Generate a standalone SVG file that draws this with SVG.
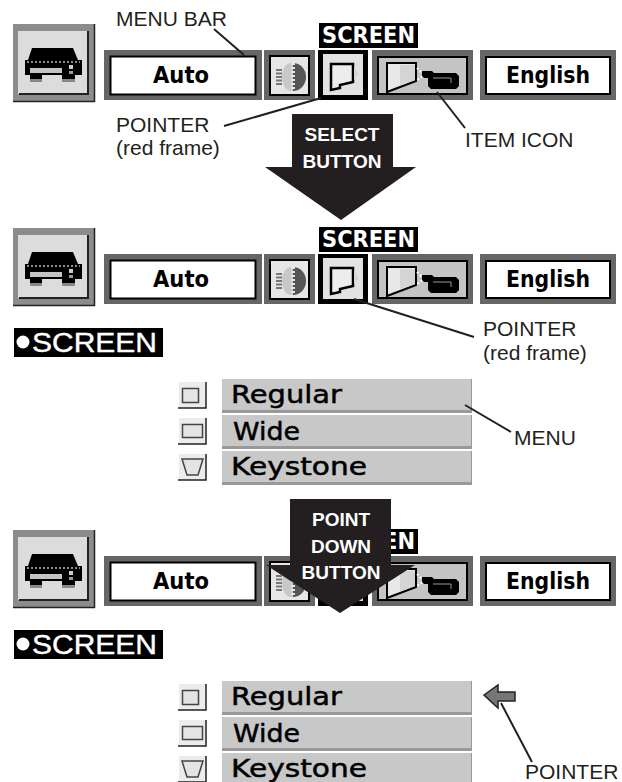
<svg xmlns="http://www.w3.org/2000/svg" xmlns:xlink="http://www.w3.org/1999/xlink" width="622" height="782" viewBox="0 0 622 782">
<style>
.lab{font-family:"Liberation Sans",Arial,sans-serif;font-size:21px;fill:#231f20}
.btn{font-family:"Liberation Sans",Arial,sans-serif;font-size:19px;font-weight:700;fill:#fff;text-anchor:middle}
.bar{font-family:"DejaVu Sans",sans-serif;font-size:23px;font-weight:700;fill:#000}
.scr{font-family:"DejaVu Sans",sans-serif;font-size:23px;font-weight:700;fill:#fff}
.opt{font-family:"DejaVu Sans",sans-serif;font-size:25px;fill:#000;stroke:#000;stroke-width:.5px}
.ol{font-family:"Liberation Sans",Arial,sans-serif;font-size:27px;fill:#fff;stroke:#fff;stroke-width:.4px}
.con{stroke:#231f20;stroke-width:2;fill:none}
.frame{fill:#666}
.in{stroke:#000;stroke-width:2}
.row{fill:#c8c8c8}
.rowb{fill:#999}
.ic{fill:#ececec}
.ico{fill:#e4e4e4;stroke:#444;stroke-width:1.5}
</style>
<defs>
<g id="bar">
  <rect x="13" y="24" width="82" height="78" fill="#8c8c8c"/>
  <path d="M13 101.500H95M94.500 24V102" stroke="#222" stroke-width="1.500" fill="none"/>
  <rect x="18" y="31" width="70" height="63" fill="#dcdcdc"/>
  <path d="M19 94H88V31" fill="none" stroke="#222" stroke-width="2"/>
  <path d="M30 75H42V82H30ZM62 75H75V82H62Z" fill="#888"/>
  <path d="M32 48H73L78 60H82V75H75V79H62V75H42V79H30V75H25V60H28Z" fill="#000"/>
  <path d="M27 62H80" stroke="#bbb" stroke-width="1.500" stroke-dasharray="2 2"/>
  <rect x="30" y="68" width="32" height="5" fill="#c4c4c4"/>
  <rect x="69" y="65" width="4" height="4" fill="#ccc"/><rect x="69" y="71" width="4" height="3" fill="#999"/>
  <rect x="104" y="50" width="158" height="50" class="frame"/>
  <rect x="110.500" y="56.500" width="145" height="38" fill="#fff" class="in"/>
  <text class="bar" x="153" y="83" textLength="56" lengthAdjust="spacingAndGlyphs">Auto</text>
  <rect x="264" y="50" width="51" height="50" class="frame"/>
  <rect x="270" y="56" width="39" height="39" fill="#e6e6e6" class="in"/>
  <ellipse cx="291" cy="77" rx="9" ry="14" fill="#c8c8c8"/>
  <path d="M293 63A13 14 0 0 1 293 91Z" fill="#555"/>
  <path d="M293 63V91" stroke="#e6e6e6" stroke-width="4" stroke-dasharray="2 2"/>
  <path d="M279 69V85" stroke="#777" stroke-width="6" stroke-dasharray="2 1.500"/>
  <rect x="372" y="50" width="101" height="50" class="frame"/>
  <rect x="378" y="57" width="89" height="37" fill="#c4c4c4" class="in"/>
  <path d="M387 63H416V81L387 92Z" fill="#e8e8e8" stroke="#000" stroke-width="2"/>
  <path d="M400 65H415V80L400 85Z" fill="#d4d4d4"/>
  <path d="M417 68L424 75 417 80" fill="none" stroke="#fff" stroke-width="2" stroke-dasharray="2 2"/>
  <path d="M422 71H432L434 73H456L459 76V86L456 89H431L428 86V78H424L422 76Z" fill="#000"/>
  <path d="M433 78H451V83" fill="none" stroke="#999" stroke-width="1"/>
  <rect x="480" y="50" width="136" height="50" class="frame"/>
  <rect x="486" y="57" width="124" height="37" fill="#fff" class="in"/>
  <text class="bar" x="506" y="83" textLength="84" lengthAdjust="spacingAndGlyphs">English</text>
</g>
<g id="pointerbox">
  <rect x="318" y="50" width="50" height="50" fill="#000"/>
  <rect x="323" y="54" width="40" height="41" fill="#e2e2e2"/>
  <path d="M331 64H353V82L340 85V88L331 90Z" fill="#ededed" stroke="#000" stroke-width="2.500"/>
  <path d="M354 66L359 74 354 80Z" fill="#d4d4d4"/>
</g>
<g id="scrlabel">
  <rect x="319" y="23" width="99" height="25" fill="#000"/>
  <text class="scr" x="322" y="43" textLength="93" lengthAdjust="spacingAndGlyphs">SCREEN</text>
</g>
<g id="menu">
  <rect x="222" y="0" width="250" height="34" class="rowb"/><rect x="222" y="0" width="249" height="31" class="row"/>
  <rect x="222" y="36" width="250" height="34" class="rowb"/><rect x="222" y="36" width="249" height="31" class="row"/>
  <rect x="222" y="72" width="250" height="34" class="rowb"/><rect x="222" y="72" width="249" height="31" class="row"/>
  <text class="opt" x="231" y="24" textLength="111" lengthAdjust="spacingAndGlyphs">Regular</text>
  <text class="opt" x="233" y="61" textLength="67" lengthAdjust="spacingAndGlyphs">Wide</text>
  <text class="opt" x="231" y="96" textLength="136" lengthAdjust="spacingAndGlyphs">Keystone</text>
  <g>
    <rect x="179" y="3" width="27" height="26" class="ic"/><path d="M178 29H206V3" fill="none" stroke="#222" stroke-width="1.500"/>
    <rect x="182.500" y="9.500" width="16" height="14" class="ico"/>
    <rect x="179" y="39" width="27" height="26" class="ic"/><path d="M178 65H206V39" fill="none" stroke="#222" stroke-width="1.500"/>
    <rect x="182.500" y="45.500" width="20" height="13" class="ico"/>
    <rect x="179" y="75" width="27" height="26" class="ic"/><path d="M178 101H206V75" fill="none" stroke="#222" stroke-width="1.500"/>
    <path d="M182 80H203L198 96H187Z" class="ico"/>
  </g>
</g>
<g id="scrtitle">
  <rect x="14" y="0" width="149" height="29" fill="#000"/>
  <circle cx="23" cy="14" r="6.500" fill="#fff"/>
  <text class="ol" x="32" y="24" textLength="125" lengthAdjust="spacingAndGlyphs">SCREEN</text>
</g>
</defs>

<g id="menu-bar-1"><use xlink:href="#bar" href="#bar"/><use href="#scrlabel" xlink:href="#scrlabel"/><use href="#pointerbox" xlink:href="#pointerbox"/></g>
<g id="menu-bar-2" transform="translate(0 204)"><use href="#bar" xlink:href="#bar"/><use href="#scrlabel" xlink:href="#scrlabel"/><use href="#pointerbox" xlink:href="#pointerbox"/></g>
<g id="menu-bar-3" transform="translate(0 506)"><use href="#bar" xlink:href="#bar"/><use href="#scrlabel" xlink:href="#scrlabel"/><use href="#pointerbox" xlink:href="#pointerbox"/></g>

<g id="screen-title-1" transform="translate(0 328)"><use href="#scrtitle" xlink:href="#scrtitle"/></g>
<g id="screen-title-2" transform="translate(0 630)"><use href="#scrtitle" xlink:href="#scrtitle"/></g>
<g id="menu-1" transform="translate(0 379)"><use href="#menu" xlink:href="#menu"/></g>
<g id="menu-2" transform="translate(0 681)"><use href="#menu" xlink:href="#menu"/></g>

<g id="select-button">
  <path d="M292 114H393V167H416L341 220 265 167H292Z" fill="#231f20"/>
  <text class="btn" x="342" y="141">SELECT</text>
  <text class="btn" x="342" y="168">BUTTON</text>
</g>
<g id="point-down-button">
  <path d="M290 499H391V565H415L340 613 266 565H290Z" fill="#231f20"/>
  <text class="btn" x="341" y="526">POINT</text>
  <text class="btn" x="341" y="553">DOWN</text>
  <text class="btn" x="341" y="579">BUTTON</text>
</g>
<g id="pointer-arrow">
  <path d="M484 695L498 685V692H515V701H498V708Z" fill="#777" stroke="#222" stroke-width="1.500"/>
</g>

<g id="connectors">
  <path class="con" d="M214 29L244 55"/>
  <path class="con" d="M224 126L321 98"/>
  <path class="con" d="M437 92L465 128"/>
  <path class="con" d="M354 299L474 337"/>
  <path class="con" d="M465 405L511 432"/>
  <path class="con" d="M501 703L532 762"/>
</g>

<g id="labels">
  <text class="lab" x="116" y="26">MENU BAR</text>
  <text class="lab" x="116" y="132">POINTER</text>
  <text class="lab" x="116" y="155">(red frame)</text>
  <text class="lab" x="465" y="147">ITEM ICON</text>
  <text class="lab" x="483" y="336">POINTER</text>
  <text class="lab" x="483" y="360">(red frame)</text>
  <text class="lab" x="514" y="445">MENU</text>
  <text class="lab" x="525" y="779">POINTER</text>
</g>
</svg>
